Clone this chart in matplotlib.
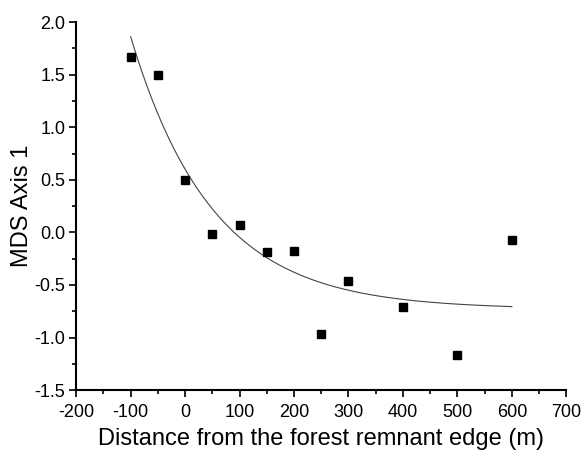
import matplotlib.pyplot as plt
import numpy as np

plt.rcParams['font.family'] = ['Liberation Sans', 'DejaVu Sans']
plt.rcParams['axes.unicode_minus'] = False

# distance from edge (m) and MDS axis 1 scores
distance = [-100, -50, 0, 50, 100, 150, 200, 250, 300, 400, 500, 600]
mds1 = [1.67, 1.50, 0.50, -0.02, 0.07, -0.19, -0.18, -0.97, -0.46, -0.71, -1.17, -0.07]

# exponential decay fit y = y0 + A*exp(-x/t), parameters
fit_y0 = -0.73
fit_A = 1.33
fit_t = 150.0

fig = plt.figure(figsize=(5.82, 4.51), dpi=100)
ax = fig.add_axes([0.131, 0.135, 0.842, 0.816])

xs = np.linspace(min(distance), max(distance), 300)
ax.plot(xs, fit_y0 + fit_A * np.exp(-xs / fit_t), color='#444444', lw=0.8)
ax.plot(distance, mds1, 's', color='black', ms=5.8, mec='black')

ax.set_xlim(-200, 700)
ax.set_ylim(-1.5, 2.0)
ax.set_xticks(range(-200, 701, 100))
ax.set_xticks(range(-150, 700, 100), minor=True)
ax.set_yticks(np.arange(-1.5, 2.01, 0.5))
ax.set_yticks(np.arange(-1.25, 2.0, 0.5), minor=True)
ax.yaxis.set_major_formatter(plt.FormatStrFormatter('%.1f'))

ax.spines['top'].set_visible(False)
ax.spines['right'].set_visible(False)
for s in ['left', 'bottom']:
    ax.spines[s].set_linewidth(1.5)
ax.tick_params(which='major', direction='out', length=5, width=1.2, labelsize=13)
ax.tick_params(axis='x', which='major', pad=5)
ax.tick_params(axis='y', which='major', pad=3)
ax.tick_params(which='minor', direction='out', length=2.7, width=1.2)

ax.set_xlabel('Distance from the forest remnant edge (m)', fontsize=17, labelpad=5)
ax.set_ylabel('MDS Axis 1', fontsize=17, labelpad=1)

fig.savefig('out.png', dpi=100)
